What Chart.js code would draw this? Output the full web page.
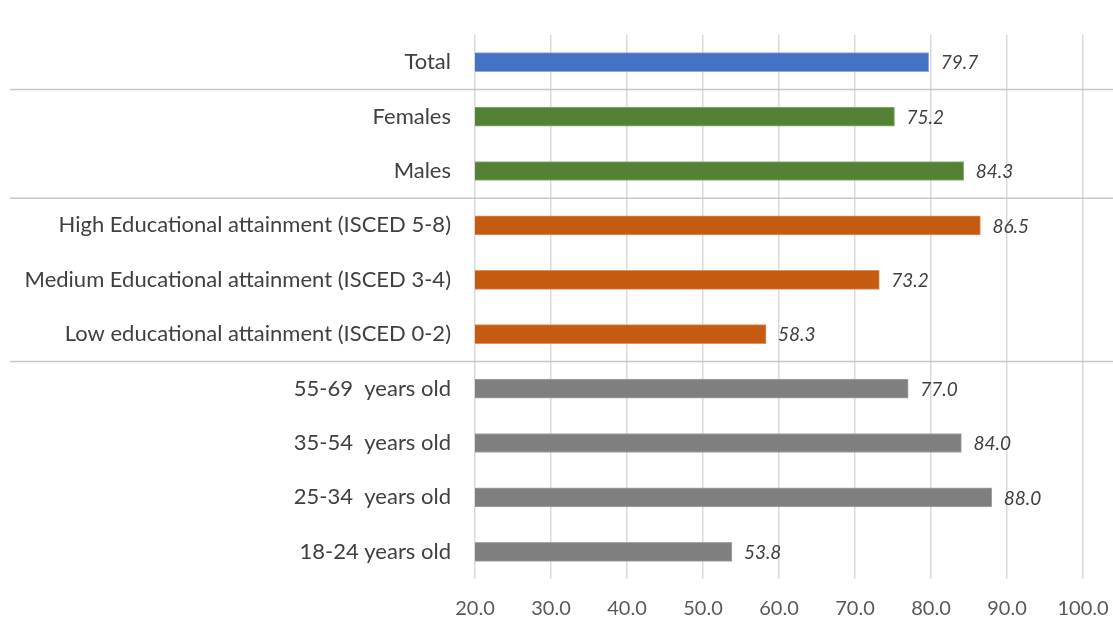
<!DOCTYPE html>
<html>
<head>
<meta charset="utf-8">
<script src="https://cdn.jsdelivr.net/npm/chart.js@4"></script>
<style>
html,body{margin:0;padding:0;background:#fff;}
#wrap{width:1113px;height:624px;position:relative;}
</style>
</head>
<body>
<div id="wrap"><canvas id="c"></canvas></div>
<script>
const categories = [
  "Total",
  "Females",
  "Males",
  "High Educational attainment (ISCED 5-8)",
  "Medium Educational attainment (ISCED 3-4)",
  "Low educational attainment (ISCED 0-2)",
  "55-69  years old",
  "35-54  years old",
  "25-34  years old",
  "18-24 years old"
];
const values = [79.7, 75.2, 84.3, 86.5, 73.2, 58.3, 77.0, 84.0, 88.0, 53.8];
const groups = ["total","sex","sex","edu","edu","edu","age","age","age","age"];
const groupColors = {total:"#4472C4", sex:"#548235", edu:"#C55A11", age:"#7F7F7F"};
const groupBorders = {total:"#8FAADC", sex:"#8CB16E", edu:"#E09060", age:"#A5A5A5"};
const separatorsAfter = [0, 2, 5];
const xTicks = [20, 30, 40, 50, 60, 70, 80, 90, 100];

const valueLabels = {
  id: 'valueLabels',
  afterDatasetsDraw(chart) {
    const ctx = chart.ctx;
    const meta = chart.getDatasetMeta(0);
    ctx.save();
    ctx.font = 'italic 19px Lato, "Open Sans", sans-serif';
    ctx.fillStyle = '#404040';
    ctx.textAlign = 'left';
    ctx.textBaseline = 'middle';
    meta.data.forEach((bar, i) => {
      ctx.fillText(values[i].toFixed(1), bar.x + 12, bar.y + 1);
    });
    ctx.restore();
  }
};

const separators = {
  id: 'separators',
  afterDraw(chart) {
    const ctx = chart.ctx;
    const y = chart.scales.y;
    ctx.save();
    ctx.strokeStyle = '#C8C8C8';
    ctx.lineWidth = 1.5;
    separatorsAfter.forEach(i => {
      const py = (y.getPixelForValue(i) + y.getPixelForValue(i + 1)) / 2;
      ctx.beginPath();
      ctx.moveTo(10, py);
      ctx.lineTo(chart.width, py);
      ctx.stroke();
    });
    ctx.restore();
  }
};

new Chart(document.getElementById('c'), {
  type: 'bar',
  data: {
    labels: categories,
    datasets: [{
      data: values,
      backgroundColor: groups.map(g => groupColors[g]),
      borderColor: groups.map(g => groupBorders[g]),
      borderWidth: 1,
      borderSkipped: false,
      barThickness: 19
    }]
  },
  options: {
    indexAxis: 'y',
    responsive: true,
    maintainAspectRatio: false,
    animation: false,
    layout: { padding: { top: 35, right: 30, left: 0, bottom: 0 } },
    plugins: { legend: { display: false }, tooltip: { enabled: false } },
    scales: {
      x: {
        min: 20, max: 100,
        afterBuildTicks(scale) { scale.ticks = xTicks.map(v => ({ value: v })); },
        afterFit(scale) { scale.height = 45; scale.paddingLeft = 0; scale.paddingRight = 0; },
        grid: { color: '#D9D9D9', lineWidth: 1.5, drawTicks: false },
        border: { display: false },
        ticks: {
          padding: 18,
          color: '#595959',
          font: { family: 'Lato, "Open Sans", sans-serif', size: 20 },
          callback: v => Number(v).toFixed(1)
        }
      },
      y: {
        afterFit(scale) { scale.width = 475; scale.paddingTop = 0; scale.paddingBottom = 0; },
        grid: { display: false },
        border: { display: false },
        ticks: {
          padding: 16,
          color: '#404040',
          font: { family: 'Lato, "Open Sans", sans-serif', size: 22 }
        }
      }
    }
  },
  plugins: [valueLabels, separators]
});
</script>
</body>
</html>
